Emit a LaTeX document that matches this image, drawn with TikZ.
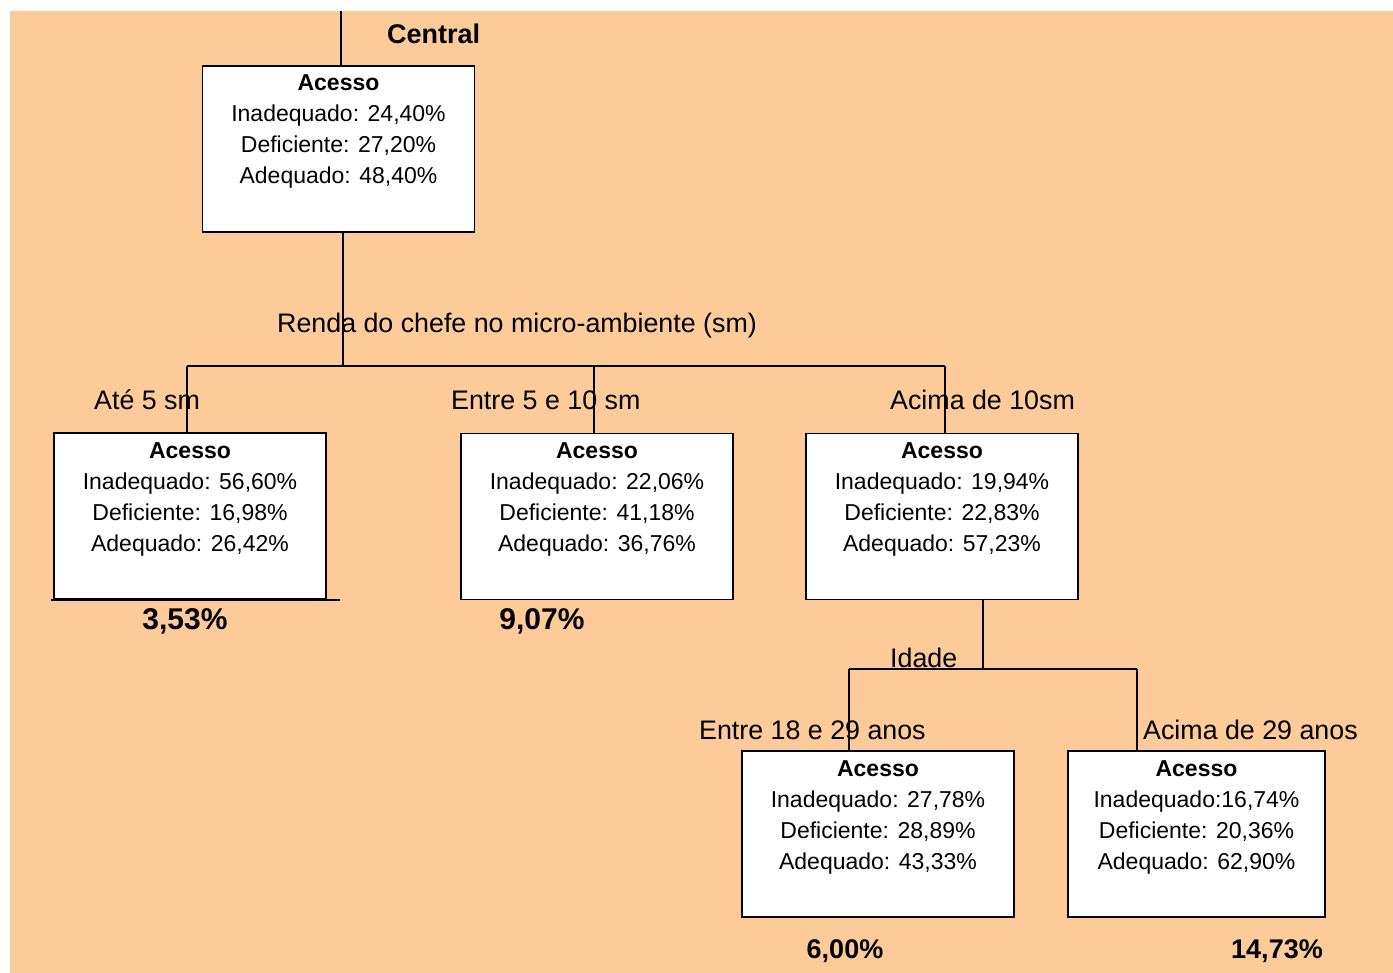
\documentclass[tikz,border=0pt]{standalone}
\usepackage{fontspec}
\setmainfont{Liberation Sans}
\definecolor{peach}{RGB}{253,203,153}
\begin{document}
\begin{tikzpicture}[x=1pt,y=-1pt,
  box/.style={draw=black,line width=1.5pt,fill=white,inner sep=0pt,minimum width=272pt,minimum height=166pt},
  boxtext/.style={align=center,inner sep=0pt,font=\fontsize{23}{31}\selectfont},
  lbl/.style={anchor=west,inner sep=0pt,font=\fontsize{26.8}{30}\selectfont},
  pct/.style={inner sep=0pt,font=\fontsize{27}{30}\selectfont\bfseries},
  bigpct/.style={inner sep=0pt,font=\fontsize{30}{33}\selectfont\bfseries},
  edge/.style={line width=1.5pt}]
\useasboundingbox (0,0) rectangle (1393,973);
\fill[peach] (10,11) rectangle (1393,973);
% boxes
\node[box] (root) at (338.5,149) {};
\node[box] (b1) at (190,516) {};
\node[box] (b2) at (597,516.5) {};
\node[box] (b3) at (942,516.5) {};
\node[box] (b4) at (878,834) {};
\node[box,minimum width=257pt] (b5) at (1196.5,834) {};
% box texts
\node[boxtext] (t0) at (338.5,131.5) {\textbf{Acesso}\\Inadequado: 24,40\%\\Deficiente: 27,20\%\\Adequado: 48,40\%};
\node[boxtext] (t1) at (190,499.5) {\textbf{Acesso}\\Inadequado: 56,60\%\\Deficiente: 16,98\%\\Adequado: 26,42\%};
\node[boxtext] (t2) at (597,499.5) {\textbf{Acesso}\\Inadequado: 22,06\%\\Deficiente: 41,18\%\\Adequado: 36,76\%};
\node[boxtext] (t3) at (942,499.5) {\textbf{Acesso}\\Inadequado: 19,94\%\\Deficiente: 22,83\%\\Adequado: 57,23\%};
\node[boxtext] (t4) at (878,817.5) {\textbf{Acesso}\\Inadequado: 27,78\%\\Deficiente: 28,89\%\\Adequado: 43,33\%};
\node[boxtext] (t5) at (1196.5,817.5) {\textbf{Acesso}\\Inadequado:16,74\%\\Deficiente: 20,36\%\\Adequado: 62,90\%};
% connectors
\coordinate (top) at (341,11);
\draw[edge] (top) -- (top |- root.north);
\coordinate (j0) at (343,366);
\coordinate (j0l) at (187,366);
\coordinate (j0m) at (594,366);
\coordinate (j0r) at (945,366);
\draw[edge] (root.south -| j0) -- (j0);
\draw[edge] (j0l) -- (j0r);
\draw[edge] (j0l) -- (j0l |- b1.north);
\draw[edge] (j0m) -- (j0m |- b2.north);
\draw[edge] (j0r) -- (j0r |- b3.north);
\draw[edge] ([xshift=-2pt]b1.south west) -- ([xshift=13pt]b1.south east);
\coordinate (j1) at (983,669);
\coordinate (j1l) at (849,669);
\coordinate (j1r) at (1137,669);
\draw[edge] (b3.south -| j1) -- (j1);
\draw[edge] (j1l) -- (j1r);
\draw[edge] (j1l) -- (j1l |- b4.north);
\draw[edge] (j1r) -- (j1r |- b5.north);
% labels
\node[pct,anchor=west] (central) at (387,34) {Central};
\node[lbl] (renda) at (277,326) {Renda do chefe no micro-ambiente (sm)};
\node[lbl] (l1) at (94,400) {Até 5 sm};
\node[lbl] (l2) at (451,400) {Entre 5 e 10 sm};
\node[lbl] (l3) at (890,400) {Acima de 10sm};
\node[lbl] (idade) at (890,658) {Idade};
\node[lbl] (l4) at (699,730) {Entre 18 e 29 anos};
\node[lbl] (l5) at (1143,730) {Acima de 29 anos};
\node[bigpct] (p1) at (185,621) {3,53\%};
\node[bigpct] (p2) at (542,621) {9,07\%};
\node[pct] (p4) at (845,951) {6,00\%};
\node[pct] (p5) at (1277,951) {14,73\%};
\end{tikzpicture}
\end{document}
